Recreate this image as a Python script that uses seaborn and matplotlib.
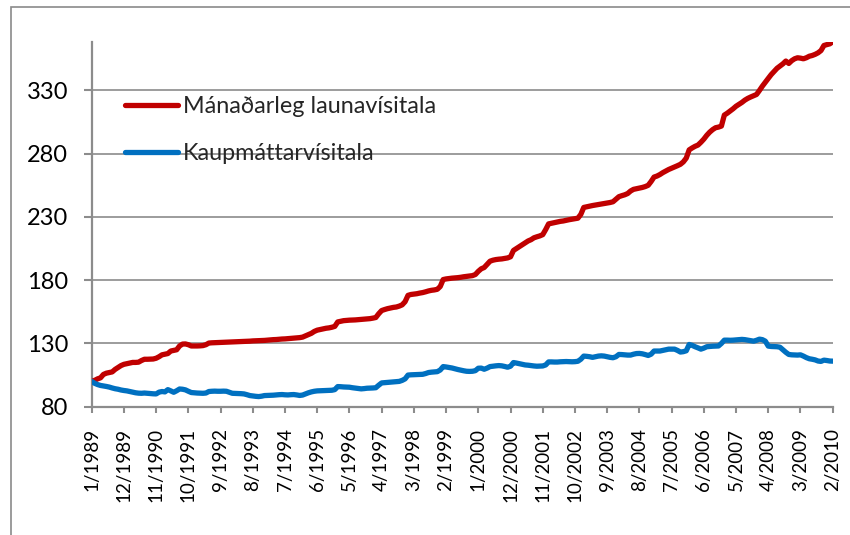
import matplotlib
matplotlib.use("Agg")
import matplotlib.pyplot as plt
import matplotlib.patches as mpatches
import seaborn as sns
import pandas as pd
import numpy as np

# ---- data (monthly, 1/1989 .. 2/2010) ----
tick_labels = ["1/1989", "12/1989", "11/1990", "10/1991", "9/1992", "8/1993",
               "7/1994", "6/1995", "5/1996", "4/1997", "3/1998", "2/1999",
               "1/2000", "12/2000", "11/2001", "10/2002", "9/2003", "8/2004",
               "7/2005", "6/2006", "5/2007", "4/2008", "3/2009", "2/2010"]

series_names = ["Mánaðarleg launavísitala", "Kaupmáttarvísitala"]

launavisitala = [
    100.0, 100.8, 102.0, 102.8, 105.5, 106.5, 107.0, 107.5, 109.5, 111.0,
    112.5, 113.5, 114.0, 114.5, 115.0, 115.0, 115.2, 116.5, 117.5, 117.5,
    117.6, 117.7, 118.3, 119.5, 121.0, 121.5, 122.0, 124.0, 124.5, 125.0,
    128.0, 129.5, 129.6, 129.0, 128.0, 128.0, 128.0, 128.1, 128.3, 129.0,
    130.3, 130.5, 130.6, 130.7, 130.8, 130.9, 131.0, 131.1, 131.2, 131.3,
    131.4, 131.5, 131.6, 131.7, 131.8, 132.0, 132.1, 132.2, 132.3, 132.4,
    132.6, 132.8, 133.0, 133.1, 133.3, 133.5, 133.6, 133.8, 134.0, 134.2,
    134.4, 134.6, 135.0, 136.0, 137.0, 138.0, 139.5, 140.5, 141.0, 141.5,
    142.0, 142.3, 142.8, 143.5, 147.0, 147.5, 148.0, 148.2, 148.4, 148.5,
    148.6, 148.8, 149.0, 149.2, 149.4, 149.6, 150.0, 150.5, 153.5, 156.0,
    156.8, 157.5, 158.0, 158.5, 158.8, 159.5, 160.5, 163.0, 168.0, 168.7,
    169.0, 169.3, 169.8, 170.2, 170.8, 171.5, 172.0, 172.3, 172.8, 175.0,
    180.5, 181.0, 181.3, 181.6, 181.8, 182.0, 182.3, 182.7, 183.0, 183.3,
    183.6, 184.5, 187.0, 189.0, 190.0, 192.5, 195.0, 195.8, 196.3, 196.6,
    196.8, 197.2, 197.6, 198.5, 203.5, 205.0, 206.5, 208.0, 209.5, 211.0,
    212.0, 213.5, 214.3, 215.0, 216.0, 220.0, 224.5, 225.0, 225.5, 226.0,
    226.5, 226.8, 227.3, 227.8, 228.2, 228.6, 229.0, 232.0, 237.5, 238.0,
    238.5, 239.0, 239.4, 239.8, 240.2, 240.6, 241.0, 241.4, 242.0, 244.0,
    246.0, 246.8, 247.5, 248.5, 250.5, 251.8, 252.3, 252.8, 253.3, 254.0,
    255.0, 258.0, 261.5, 262.3, 263.5, 265.0, 266.3, 267.5, 268.5, 269.5,
    270.5, 271.6, 273.5, 276.5, 283.0, 284.5, 285.8, 286.8, 289.0, 291.5,
    294.5, 297.0, 299.0, 300.5, 301.0, 301.8, 310.5, 312.0, 313.7, 315.5,
    317.5, 319.0, 320.5, 322.3, 323.7, 324.8, 325.8, 326.8, 330.0, 333.4,
    336.5, 339.5, 342.5, 345.0, 347.5, 349.2, 351.0, 353.2, 351.3, 353.5,
    355.0, 355.8, 355.5, 355.0, 355.8, 357.0, 357.6, 358.5, 359.7, 361.5,
    365.5, 366.2, 366.8, 368.4]

kaupmattur = [
    100.0, 98.5, 97.5, 96.8, 96.4, 96.0, 95.5, 94.8, 94.2, 93.8,
    93.2, 92.8, 92.5, 92.0, 91.5, 91.0, 90.7, 90.6, 90.8, 90.6,
    90.4, 90.2, 90.1, 91.5, 92.0, 91.7, 93.5, 92.5, 91.4, 92.6,
    94.0, 93.8, 93.3, 92.2, 91.2, 91.0, 90.8, 90.7, 90.6, 90.8,
    92.0, 92.2, 92.3, 92.2, 92.2, 92.3, 92.2, 91.4, 90.6, 90.5,
    90.4, 90.3, 90.1, 89.5, 88.8, 88.5, 88.2, 88.0, 88.3, 88.8,
    88.9, 89.0, 89.1, 89.3, 89.5, 89.6, 89.4, 89.3, 89.5, 89.6,
    89.3, 88.9, 89.2, 90.1, 91.0, 91.7, 92.2, 92.5, 92.6, 92.7,
    92.8, 92.9, 93.0, 93.5, 95.9, 95.8, 95.6, 95.5, 95.4, 95.0,
    94.7, 94.4, 94.1, 94.3, 94.6, 94.7, 94.8, 95.0, 97.0, 98.8,
    99.0, 99.2, 99.4, 99.6, 99.8, 100.0, 100.8, 102.0, 105.0, 105.2,
    105.3, 105.4, 105.5, 105.6, 106.2, 107.0, 107.3, 107.5, 107.7, 109.0,
    111.7, 111.4, 111.0, 110.6, 110.0, 109.4, 108.9, 108.4, 108.0, 107.9,
    108.0, 108.5, 110.4, 110.5, 109.6, 110.5, 111.7, 112.0, 112.3, 112.5,
    112.3, 111.8, 111.2, 112.0, 114.9, 114.5, 114.0, 113.5, 113.0, 112.8,
    112.5, 112.2, 112.0, 112.1, 112.2, 113.0, 115.4, 115.4, 115.3, 115.3,
    115.5, 115.6, 115.7, 115.6, 115.5, 115.6, 115.9, 117.5, 120.0, 119.8,
    119.5, 119.0, 119.5, 120.0, 120.2, 120.0, 119.5, 119.0, 118.7, 119.5,
    121.3, 121.2, 121.0, 120.8, 120.8, 121.5, 122.0, 122.1, 121.8, 121.2,
    120.5, 121.5, 124.0, 124.0, 124.0, 124.5, 125.0, 125.5, 125.5, 125.5,
    124.5, 123.2, 123.5, 124.2, 129.2, 128.5, 127.4, 126.5, 125.5, 126.3,
    127.4, 127.6, 127.8, 127.9, 128.0, 130.0, 132.6, 132.6, 132.5, 132.6,
    132.8, 133.0, 133.2, 133.0, 132.6, 132.2, 131.8, 132.5, 133.4, 133.0,
    131.8, 127.9, 127.6, 127.5, 127.4, 127.0, 125.0, 123.0, 121.3, 121.0,
    120.9, 120.8, 121.0, 120.0, 118.8, 117.9, 117.5, 117.0, 116.1, 115.8,
    116.8, 116.5, 116.1, 116.0]

y_ticks = [80, 130, 180, 230, 280, 330]

# ---- build long table ----
n = len(launavisitala)
df = pd.DataFrame({
    "m": list(range(n)) * 2,
    "value": launavisitala + kaupmattur,
    "series": [series_names[0]] * n + [series_names[1]] * n,
})

sns.set_theme(style="white")
plt.rcParams["font.family"] = ["Lato", "DejaVu Sans"]

W, H = 850, 535
fig = plt.figure(figsize=(W / 100, H / 100), dpi=100)
ax = fig.add_axes([91.7 / W, 1 - 406.7 / H, (832.7 - 91.7) / W, (406.7 - 41.7) / H])

palette = {series_names[0]: "#C00000", series_names[1]: "#0070C0"}
sns.lineplot(data=df, x="m", y="value", hue="series", palette=palette,
             linewidth=3.8, ax=ax, legend=True, zorder=3,
             solid_capstyle="round", solid_joinstyle="round")

ax.set_xlim(0, n - 1)
ax.set_ylim(80, 368.5)
ax.set_xlabel("")
ax.set_ylabel("")

tick_pos = list(range(0, n, 11))
ax.set_xticks(tick_pos)
ax.set_xticklabels(tick_labels[:len(tick_pos)], rotation=90, fontsize=13.5,
                   color="#000000")
ax.set_yticks(y_ticks)
ax.set_yticklabels([str(t) for t in y_ticks], fontsize=17, color="#000000")

ax.tick_params(axis="y", length=6, width=1.5, color="#8C8C8C", pad=11,
               direction="out", left=True)
ax.tick_params(axis="x", length=4.5, width=1.5, color="#8C8C8C", pad=11,
               direction="out", bottom=True)

for g in y_ticks[1:]:
    ax.axhline(g, color="#9C9C9C", linewidth=1.4, zorder=1)

for s in ["top", "right"]:
    ax.spines[s].set_visible(False)
for s in ["left", "bottom"]:
    ax.spines[s].set_color("#8C8C8C")
    ax.spines[s].set_linewidth(1.6)

leg = ax.legend(loc="upper left", bbox_to_anchor=(125 / W, 1 - 96 / H),
                bbox_transform=fig.transFigure, frameon=False,
                fontsize=16.8, handlelength=2.25, handletextpad=0.22,
                labelspacing=1.12, borderpad=0, borderaxespad=0)
for line in leg.get_lines():
    line.set_linewidth(3.8)

# outer chart border (only top and left edges are visible in the reference)
fig.patches.append(mpatches.Rectangle((10.7 / W, -0.2), 1.5, 1.2 - 7 / H,
                                      transform=fig.transFigure, fill=False,
                                      edgecolor="#8A8A8A", linewidth=1.2))

fig.savefig("out.png", dpi=100)
